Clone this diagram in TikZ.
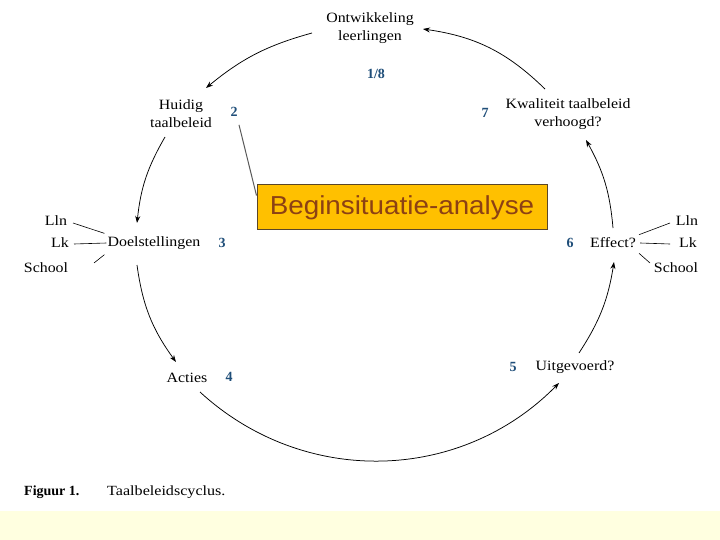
\documentclass[tikz,border=0pt]{standalone}
\usepackage{fontspec}
\setmainfont{Liberation Serif}
\newfontfamily\boxfont[FakeStretch=1.07]{Liberation Sans}
\newfontfamily\diagfont[FakeStretch=1.12]{Liberation Serif}
\newfontfamily\capfont[FakeStretch=1.15]{Liberation Serif}
\usetikzlibrary{arrows.meta}
\definecolor{numblue}{RGB}{31,78,121}
\definecolor{yellowbg}{RGB}{255,255,224}
\definecolor{boxfill}{RGB}{255,192,0}
\definecolor{boxtext}{RGB}{140,65,20}
\definecolor{boxedge}{RGB}{90,70,40}
\definecolor{pointer}{RGB}{90,90,90}
\begin{document}
\begin{tikzpicture}[x=1pt,y=-1pt,
  lbl/.style={font=\diagfont\fontsize{14.2}{18}\selectfont, inner sep=0pt, align=center},
  num/.style={font=\bfseries\fontsize{14}{16}\selectfont, text=numblue, inner sep=0pt},
  arr/.style={-{Stealth[length=7pt,width=5pt]}, line width=0.75pt},
  tickline/.style={line width=0.6pt}]
\useasboundingbox (0,0) rectangle (720,540);
\fill[white] (0,0) rectangle (720,540);
\fill[yellowbg] (0,511) rectangle (720,540);

% labels
\node[lbl] (ont) at (370,28) {Ontwikkeling\\leerlingen};
\node[num] (n18) at (376,74) {1/8};
\node[lbl] (hui) at (181,114) {Huidig\\taalbeleid};
\node[num] (n2) at (234,112) {2};
\node[num] (n7) at (485,113) {7};
\node[lbl] (kwa) at (568,114) {Kwaliteit taalbeleid\\verhoogd?};
\node[lbl] (doel) at (154,243) {Doelstellingen};
\node[num] (n3) at (222,243) {3};
\node[lbl] (llnL) at (56,221) {Lln};
\node[lbl] (lkL) at (60,243) {Lk};
\node[lbl] (schL) at (46,268) {School};
\node[lbl] (eff) at (613,243) {Effect?};
\node[num] (n6) at (570,243) {6};
\node[lbl] (llnR) at (687,221) {Lln};
\node[lbl] (lkR) at (688,243) {Lk};
\node[lbl] (schR) at (676,268) {School};
\node[lbl] (act) at (187,378) {Acties};
\node[num] (n4) at (229,377) {4};
\node[num] (n5) at (513,367) {5};
\node[lbl] (uit) at (575,367) {Uitgevoerd?};
\node[anchor=west, inner sep=0pt, font=\fontsize{14}{16}\selectfont] (cap) at (24,492) {\textbf{Figuur 1.}};
\node[anchor=west, inner sep=0pt, font=\capfont\fontsize{14}{16}\selectfont] (cap2) at (107,492) {Taalbeleidscyclus.};

% box
\node[draw=boxedge, line width=1pt, fill=boxfill, minimum width=290pt, minimum height=45pt, inner sep=0pt,
  font=\boxfont\fontsize{26}{30}\selectfont, text=boxtext] (box) at (402,207.5) {Beginsituatie-analyse};
\draw[pointer, line width=1pt] ([shift={(5,8)}]n2.south) -- ([shift={(0,-12)}]box.west);

% tick lines
\draw[tickline] (73,223) -- ([shift={(-3,-3)}]doel.north west);
\draw[tickline] (74,244) -- ([shift={(-1,0)}]doel.west);
\draw[tickline] (94,263) -- ([shift={(-3,5)}]doel.south west);
\draw[tickline] (670,223) -- ([shift={(3,-3)}]eff.north east);
\draw[tickline] (670,244) -- ([shift={(4,0)}]eff.east);
\draw[tickline] (650,263) -- ([shift={(3,5)}]eff.south east);

% cycle arrows
\draw[arr] (312,33) to[bend right=12] (206,88);
\draw[arr] (165,137) to[bend right=12] (137,223);
\draw[arr] (137,265) to[bend right=14] (176,362);
\draw[arr] (200,392) to[bend right=44] (559,383);
\draw[arr] (579,353) to[bend right=12] (614,262);
\draw[arr] (613,228) to[bend right=12] (586,140);
\draw[arr] (545,89) to[bend right=18] (423,29);
\end{tikzpicture}
\end{document}
